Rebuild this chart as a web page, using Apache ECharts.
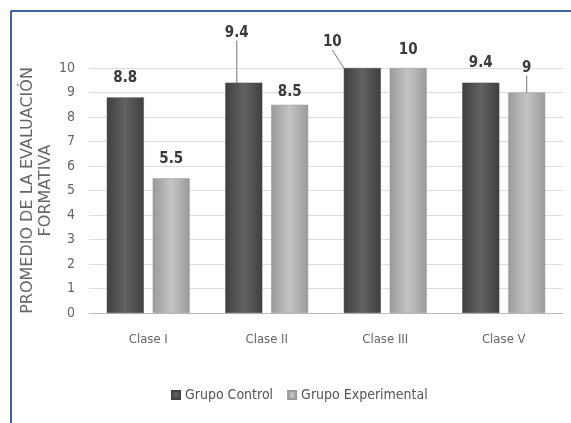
<!DOCTYPE html>
<html><head><meta charset="utf-8">
<script src="https://cdn.jsdelivr.net/npm/echarts@6/dist/echarts.min.js"></script>
<style>html,body{margin:0;padding:0;background:#fff}#c{width:571px;height:423px}</style>
</head><body><div id="c"></div>
<script>
const categories = ['Clase I', 'Clase II', 'Clase III', 'Clase V'];
const grupoControl = [8.8, 9.4, 10, 9.4];
const grupoExperimental = [5.5, 8.5, 10, 9];
const yTicks = [0, 1, 2, 3, 4, 5, 6, 7, 8, 9, 10];

const FONT = "'DejaVu Sans Condensed', 'Liberation Sans Narrow', sans-serif";
const chart = echarts.init(document.getElementById('c'));

const ctrlShift = [[0, -7, false], [-7, -37, true], [-30, -13, true], [0, -7, false]];
const expShift = [[0, -7, false], [0, 0, false], [0, -5, false], [0, -12, true]];

function grad(a, b) {
  return new echarts.graphic.LinearGradient(0, 0, 1, 0, [
    {offset: 0, color: a}, {offset: 0.5, color: b}, {offset: 1, color: a}
  ]);
}
function mk(vals, shifts) {
  return vals.map((v, i) => ({value: v, labelLine: {show: shifts[i][2]}}));
}

chart.setOption({
  animation: false,
  graphic: [
    {type: 'line', shape: {x1: 11, y1: 11, x2: 571, y2: 11}, style: {stroke: '#3d62a0', lineWidth: 2}},
    {type: 'line', shape: {x1: 11, y1: 11, x2: 11, y2: 423}, style: {stroke: '#3d62a0', lineWidth: 2}}
  ],
  grid: {left: 89, right: 8, top: 68, bottom: 110},
  legend: {
    bottom: 16, left: 166, itemWidth: 8, itemHeight: 8, itemGap: 14,
    icon: 'rect',
    textStyle: {fontFamily: FONT, fontSize: 14, color: '#555'},
    data: ['Grupo Control', 'Grupo Experimental']
  },
  xAxis: {
    type: 'category', data: categories,
    axisLine: {lineStyle: {color: '#bbb'}}, axisTick: {show: false},
    axisLabel: {margin: 20, fontFamily: FONT, fontSize: 13, color: '#666'}
  },
  yAxis: {
    type: 'value', min: 0, max: 10, interval: 1,
    name: 'PROMEDIO DE LA EVALUACIÓN\nFORMATIVA',
    nameLocation: 'middle', nameGap: 34, nameRotate: 90, nameMoveOverlap: false,
    nameTextStyle: {fontFamily: "'DejaVu Sans', sans-serif", fontSize: 16, color: '#666', lineHeight: 18},
    axisLine: {show: false}, axisTick: {show: false},
    splitLine: {lineStyle: {color: '#dcdcdc'}},
    axisLabel: {margin: 14, fontFamily: FONT, fontSize: 14, color: '#666',
      formatter: v => yTicks.includes(v) ? String(v) : ''}
  },
  series: [
    {
      name: 'Grupo Control', type: 'bar', barWidth: 37, barGap: '24%',
      data: mk(grupoControl, ctrlShift),
      itemStyle: {color: grad('#3f3f3f', '#626262'), borderColor: '#444', borderWidth: 0.5},
      label: {show: true, position: 'top', distance: 5, fontFamily: FONT, fontSize: 15, fontWeight: 'bold', color: '#3a3a3a'},
      labelLine: {lineStyle: {color: '#777', width: 1}},
      labelLayout: p => ({dx: ctrlShift[p.dataIndex][0], dy: ctrlShift[p.dataIndex][1]})
    },
    {
      name: 'Grupo Experimental', type: 'bar', barWidth: 37,
      data: mk(grupoExperimental, expShift),
      itemStyle: {color: grad('#9a9a9a', '#c4c4c4'), borderColor: '#999', borderWidth: 0.5},
      label: {show: true, position: 'top', distance: 5, fontFamily: FONT, fontSize: 15, fontWeight: 'bold', color: '#3a3a3a'},
      labelLine: {lineStyle: {color: '#777', width: 1}},
      labelLayout: p => ({dx: expShift[p.dataIndex][0], dy: expShift[p.dataIndex][1]})
    }
  ]
});
</script></body></html>
